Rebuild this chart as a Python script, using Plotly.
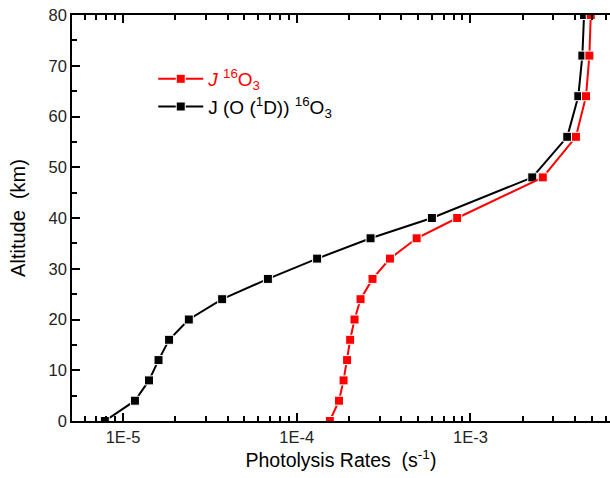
import plotly.graph_objects as go
import numpy as np

# Altitude levels (km)
altitude = [0, 4, 8, 12, 16, 20, 24, 28, 32, 36, 40, 48, 56, 64, 72, 80]

# J 16O3 (s^-1)
j_o3 = [1.55e-4, 1.75e-4, 1.86e-4, 1.95e-4, 2.03e-4, 2.15e-4, 2.33e-4, 2.73e-4,
        3.44e-4, 4.90e-4, 8.39e-4, 2.61e-3, 4.05e-3, 4.63e-3, 4.84e-3, 4.93e-3]

# J (O(1D)) 16O3 (s^-1)
j_o1d = [7.85e-6, 1.17e-5, 1.41e-5, 1.60e-5, 1.84e-5, 2.39e-5, 3.72e-5, 6.82e-5,
         1.31e-4, 2.66e-4, 6.00e-4, 2.27e-3, 3.61e-3, 4.18e-3, 4.41e-3, 4.51e-3]

x_tickvals = [1e-5, 1e-4, 1e-3]
x_ticktext = ["1E-5", "1E-4", "1E-3"]
x_minor_tickvals = [m * d for d in [1e-6, 1e-5, 1e-4, 1e-3] for m in range(2, 10)]
y_tickvals = [0, 10, 20, 30, 40, 50, 60, 70, 80]

FONT = "Arial, 'Liberation Sans', sans-serif"

fig = go.Figure()
fig.add_trace(go.Scatter(
    x=j_o1d, y=altitude, mode="lines+markers",
    name="<span style='color:black'>J (O (<sup>1</sup>D)) <sup>16</sup>O<sub>3</sub></span>",
    line=dict(color="black", width=2),
    marker=dict(symbol="square", size=9, color="black", line=dict(color="white", width=1)),
    legendgroup="a",
))
fig.add_trace(go.Scatter(
    x=j_o3, y=altitude, mode="lines+markers",
    name="<span style='color:red'><i>J</i> <sup>16</sup>O<sub>3</sub></span>",
    line=dict(color="red", width=2),
    marker=dict(symbol="square", size=9, color="red", line=dict(color="white", width=1)),
    legendgroup="b",
))

fig.update_layout(
    template="simple_white",
    width=610, height=478,
    margin=dict(l=72, r=0, t=15, b=57),
    paper_bgcolor="white", plot_bgcolor="white",
    font=dict(family=FONT, color="black"),
    showlegend=True,
    legend=dict(x=0.151, y=0.808, xanchor="left", yanchor="middle",
                traceorder="reversed", tracegroupgap=19,
                font=dict(size=19, family=FONT),
                bgcolor="rgba(0,0,0,0)", itemwidth=45),
)

fig.update_xaxes(
    type="log", range=[np.log10(5.08e-6), -2.1964],
    tickvals=x_tickvals, ticktext=x_ticktext,
    ticks="inside", ticklen=8, tickwidth=2, tickcolor="black",
    minor=dict(ticks="inside", ticklen=5, tickwidth=1.5, tickcolor="black",
               tickvals=x_minor_tickvals, showgrid=False),
    showline=True, linecolor="black", linewidth=1.5, mirror="allticks",
    showgrid=False, zeroline=False,
    tickfont=dict(size=16.5, family=FONT, color="#222"),
    title=dict(text="Photolysis Rates  (s<sup>-1</sup>)", font=dict(size=19.5, family=FONT), standoff=9),
)
fig.update_yaxes(
    range=[0, 80], tickvals=y_tickvals,
    ticks="inside", ticklen=8, tickwidth=2, tickcolor="black",
    minor=dict(ticks="inside", ticklen=5, tickwidth=1.5, tickcolor="black", dtick=5, showgrid=False),
    showline=True, linecolor="black", linewidth=1.5, mirror=False,
    showgrid=False, zeroline=False,
    tickfont=dict(size=16.5, family=FONT, color="#222"),
    title=dict(text="Altitude  (km)", font=dict(size=20, family=FONT), standoff=18),
)

fig.write_html("out.html", config={"displayModeBar": False},
               post_script="document.body.style.margin='0';document.body.style.padding='0';")
